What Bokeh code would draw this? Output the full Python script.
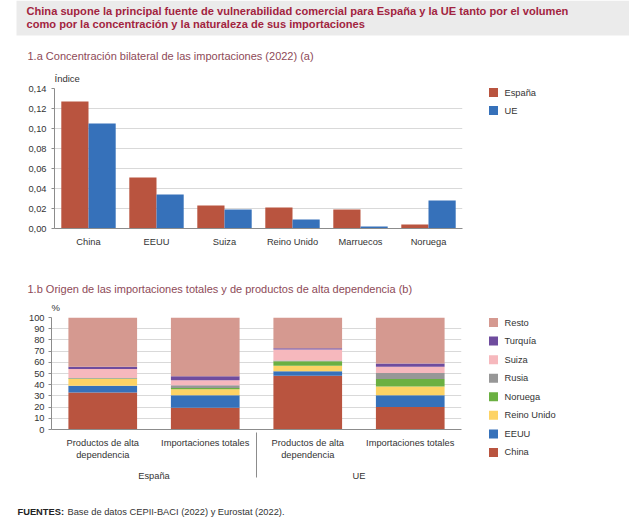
from bokeh.plotting import figure
from bokeh.models import FactorRange, Range1d, FixedTicker, ColumnDataSource
from bokeh.transform import dodge
from bokeh.layouts import column, row
from bokeh.embed import file_html
from bokeh.resources import INLINE
from bokeh.core.properties import value

FONT = "Liberation Sans"
TXT = "#333333"
SUBC = "#8e4a57"

# ---------------- data ----------------
title_lines = [
    "China supone la principal fuente de vulnerabilidad comercial para España y la UE tanto por el volumen",
    "como por la concentración y la naturaleza de sus importaciones",
]
sub_a = "1.a  Concentración bilateral de las importaciones (2022) (a)"
sub_b = "1.b  Origen de las importaciones totales y de productos de alta dependencia (b)"
unit_a = "Índice"
unit_b = "%"
footer_bold = "FUENTES:"
footer_text = "Base de datos CEPII-BACI (2022) y Eurostat (2022)."

countries = ["China", "EEUU", "Suiza", "Reino Unido", "Marruecos", "Noruega"]
espana = [0.127, 0.051, 0.023, 0.021, 0.019, 0.004]
ue = [0.105, 0.034, 0.019, 0.009, 0.002, 0.028]
series_a = ["España", "UE"]
yticks_a = [0.0, 0.02, 0.04, 0.06, 0.08, 0.10, 0.12, 0.14]
ylabels_a = ["0,00", "0,02", "0,04", "0,06", "0,08", "0,10", "0,12", "0,14"]

regions = ["España", "UE"]
kinds = ["Productos de alta\ndependencia", "Importaciones totales"]
origins = ["China", "EEUU", "Reino Unido", "Noruega", "Rusia", "Suiza", "Turquía", "Resto"]
china = [33, 19.5, 48, 20]
eeuu = [6, 11, 4, 10.5]
reino_unido = [6, 5.5, 5, 8]
noruega = [0.5, 1, 4, 6.5]
rusia = [0.5, 2.5, 0.5, 5.5]
suiza = [8, 4.5, 10, 5.5]
turquia = [2, 3.5, 1, 3]
resto = [44, 52.5, 27.5, 41]
yticks_b = [0, 10, 20, 30, 40, 50, 60, 70, 80, 90, 100]

RED = "#b9543f"
BLUE = "#3671ba"
colors_a = [RED, BLUE]
colors_b = [RED, BLUE, "#fdd365", "#6bb042", "#979797", "#f6b8bd", "#6f4c9e", "#d59990"]

W = 629


def text_fig(w, h):
    f = figure(width=w, height=h, x_range=Range1d(0, w), y_range=Range1d(h, 0),
               output_backend="svg", toolbar_location=None, min_border=0,
               x_axis_location=None, y_axis_location=None, frame_align=False)
    f.xgrid.grid_line_color = None
    f.ygrid.grid_line_color = None
    f.outline_line_color = None
    return f


def style_axes(fig):
    for ax in (fig.xaxis[0], fig.yaxis[0]):
        ax.axis_line_color = "#8c8c8c"
        ax.major_tick_line_color = "#8c8c8c"
        ax.minor_tick_line_color = None
        ax.major_label_text_font = FONT
        ax.major_label_text_font_size = "9.3px"
        ax.major_label_text_color = TXT


def legend_fig(w, h, names, colors, y0, pitch, x0):
    f = text_fig(w, h)
    ys = [y0 + pitch * i for i in range(len(names))]
    f.rect(x=[x0] * len(names), y=ys, width=9, height=9, color=colors, line_color=None)
    f.text(x=[x0 + 11] * len(names), y=ys, text=names, text_font=value(FONT),
           text_font_size="9.3px", text_color=TXT, text_baseline="middle")
    return f


# ---------------- header: title + 1.a subtitle ----------------
pt = text_fig(W, 83)
pt.quad(left=[16], right=[W], top=[0], bottom=[35], color="#ebebeb", line_color=None)
pt.text(x=[26, 26], y=[10, 23], text=title_lines, text_font=value(FONT),
        text_font_size="11.1px", text_font_style="bold", text_color="#a2243f",
        text_baseline="middle")
pt.text(x=[27], y=[55], text=[sub_a], text_font=value(FONT), text_font_size="11px",
        text_color=SUBC, text_baseline="middle")
pt.text(x=[54], y=[78], text=[unit_a], text_font=value(FONT), text_font_size="9.5px",
        text_color=TXT, text_baseline="middle")

# ---------------- chart 1.a ----------------
src_a = ColumnDataSource(dict(cat=countries, es=espana, ue=ue))
p1 = figure(width=463, height=191, x_range=FactorRange(*countries, range_padding=0),
            y_range=Range1d(0, 0.14), output_backend="svg", toolbar_location=None,
            min_border_left=54, min_border_right=1, min_border_top=5, min_border_bottom=46,
            frame_align=False)
p1.outline_line_color = None
p1.xgrid.grid_line_color = None
p1.ygrid.grid_line_color = "#d9d9d9"
p1.vbar(x=dodge("cat", -0.2, range=p1.x_range), top="es", width=0.4, source=src_a,
        color=colors_a[0], line_color=None)
p1.vbar(x=dodge("cat", 0.2, range=p1.x_range), top="ue", width=0.4, source=src_a,
        color=colors_a[1], line_color=None)
p1.yaxis.ticker = FixedTicker(ticks=yticks_a)
p1.yaxis.major_label_overrides = dict(zip(yticks_a, ylabels_a))
style_axes(p1)
p1.xaxis.major_tick_line_color = None
p1.xaxis.major_tick_out = 0
p1.xaxis.major_tick_in = 0
p1.xaxis.major_label_standoff = 8
p1.yaxis.major_tick_out = 3
p1.yaxis.major_tick_in = 0
p1.yaxis.major_label_standoff = 5

lg1 = legend_fig(W - 463, 191, series_a, colors_a, 9, 18, 30)

# ---------------- header 1.b ----------------
h2 = text_fig(W, 38)
h2.text(x=[27], y=[14], text=[sub_b], text_font=value(FONT), text_font_size="11px",
        text_color=SUBC, text_baseline="middle")
h2.text(x=[51], y=[32.5], text=[unit_b], text_font=value(FONT), text_font_size="9.5px",
        text_color=TXT, text_baseline="middle")

# ---------------- chart 1.b ----------------
factors = [(r, k) for r in regions for k in kinds]
keys = ["china", "eeuu", "reino_unido", "noruega", "rusia", "suiza", "turquia", "resto"]
src_b = ColumnDataSource(dict(x=factors, china=china, eeuu=eeuu, reino_unido=reino_unido,
                              noruega=noruega, rusia=rusia, suiza=suiza, turquia=turquia,
                              resto=resto))
p2 = figure(width=462, height=175,
            x_range=FactorRange(*factors, range_padding=0, group_padding=0,
                                subgroup_padding=0, factor_padding=0),
            y_range=Range1d(0, 100), output_backend="svg", toolbar_location=None,
            min_border_left=51, min_border_right=1, min_border_top=5, min_border_bottom=58,
            frame_align=False)
p2.outline_line_color = None
p2.xgrid.grid_line_color = None
p2.ygrid.grid_line_color = "#d9d9d9"
p2.vbar_stack(keys, x="x", width=0.67, color=colors_b, line_color=None, source=src_b)
p2.yaxis.ticker = FixedTicker(ticks=yticks_b)
style_axes(p2)
p2.yaxis.major_tick_out = 3
p2.yaxis.major_tick_in = 0
p2.yaxis.major_label_standoff = 4
xa = p2.xaxis[0]
xa.major_tick_line_color = None
xa.major_tick_out = 0
xa.major_tick_in = 0
xa.major_label_standoff = 8
xa.group_text_font = FONT
xa.group_text_font_size = "9.3px"
xa.group_text_font_style = "normal"
xa.group_text_color = TXT
xa.separator_line_color = "#8c8c8c"
xa.separator_line_width = 1

lg2 = legend_fig(W - 462, 175, origins[::-1], colors_b[::-1], 10, 18.57, 31)

# ---------------- footer ----------------
pf = text_fig(W, 32)
pf.text(x=[17], y=[24], text=[footer_bold], text_font=value(FONT), text_font_size="9.3px",
        text_font_style="bold", text_color="#222222", text_baseline="middle")
pf.text(x=[67], y=[24], text=[footer_text], text_font=value(FONT), text_font_size="9.3px",
        text_color="#333333", text_baseline="middle")

layout = column(pt, row(p1, lg1, spacing=0), h2, row(p2, lg2, spacing=0), pf, spacing=0)
open("out.html", "w").write(file_html(layout, INLINE))
